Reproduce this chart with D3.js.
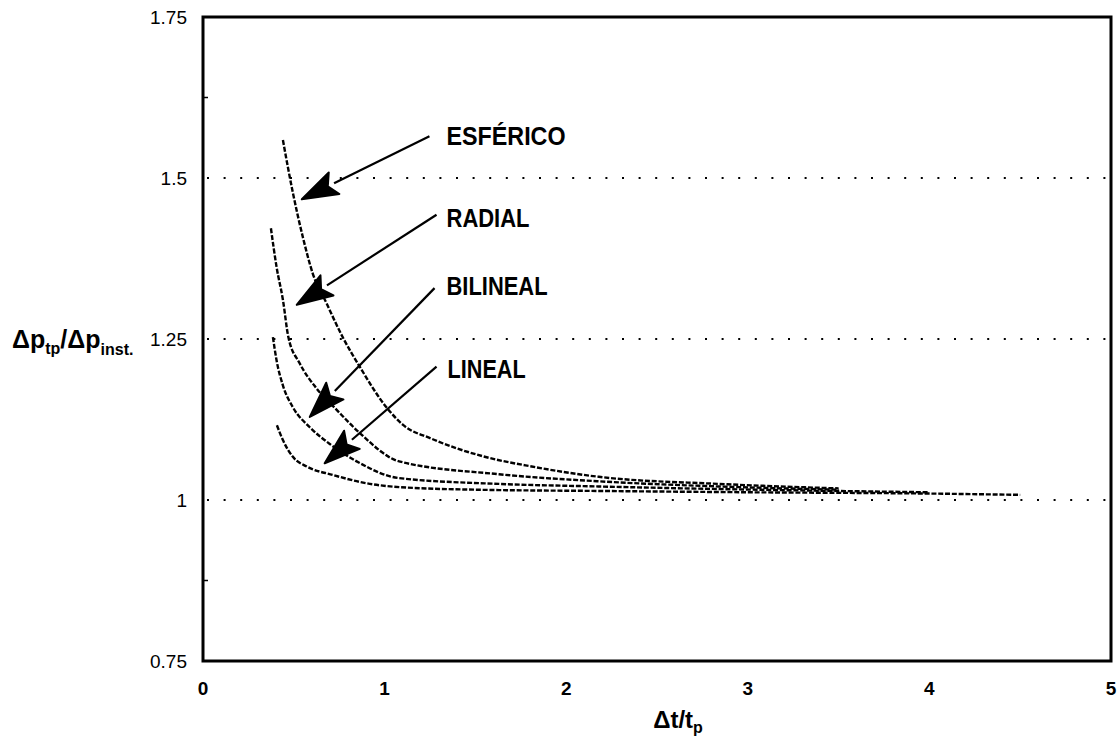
<!DOCTYPE html>
<html>
<head>
<meta charset="utf-8">
<script src="https://cdn.jsdelivr.net/npm/d3@7"></script>
<style>
  body { margin: 0; background: #fff; }
  text { font-family: "Liberation Sans", Arial, sans-serif; fill: #000; }
</style>
</head>
<body>
<div id="chart"></div>
<script>
// values
let xTicks = [0, 1, 2, 3, 4, 5];
let yTicks = [0.75, 1, 1.25, 1.5, 1.75];
let yTickLabels = ["0.75", "1", "1.25", "1.5", "1.75"];
let gridValues = [1, 1.25, 1.5];
let minorY = [0.875, 1.625];

let esfX = [0.44, 0.495, 0.55, 0.604, 0.681, 0.769, 0.863, 1.01, 1.10, 1.26, 1.54, 1.81, 2.18, 2.84, 3.5];
let esfY = [1.559, 1.477, 1.408, 1.352, 1.305, 1.253, 1.207, 1.144, 1.117, 1.095, 1.068, 1.052, 1.036, 1.025, 1.018];
let radX = [0.374, 0.405, 0.44, 0.47, 0.533, 0.626, 0.736, 0.863, 1.08, 1.63, 2.18, 2.84, 3.5];
let radY = [1.422, 1.362, 1.311, 1.253, 1.212, 1.173, 1.14, 1.104, 1.06, 1.040, 1.029, 1.021, 1.016];
let bilX = [0.385, 0.405, 0.44, 0.495, 0.588, 0.698, 0.846, 1.08, 1.63, 2.18, 2.84, 3.5, 4.0];
let bilY = [1.253, 1.217, 1.178, 1.144, 1.113, 1.087, 1.060, 1.034, 1.025, 1.021, 1.017, 1.014, 1.012];
let linX = [0.407, 0.44, 0.495, 0.571, 0.714, 0.90, 1.08, 1.5, 2.2, 3.0, 4.0, 4.5];
let linY = [1.116, 1.093, 1.067, 1.052, 1.039, 1.026, 1.020, 1.016, 1.014, 1.012, 1.010, 1.008];

let seriesNames = ["ESFÉRICO", "RADIAL", "BILINEAL", "LINEAL"];
// annotation anchors in data units: label, line start, arrow tip
let labelX = [1.341, 1.341, 1.341, 1.347];
let labelY = [1.551, 1.424, 1.318, 1.189];
let labelW = [119, 83, 101, 78];
let arrowFromX = [1.247, 1.286, 1.275, 1.286];
let arrowFromY = [1.565, 1.443, 1.329, 1.207];
let arrowToX = [0.544, 0.516, 0.588, 0.670];
let arrowToY = [1.467, 1.303, 1.129, 1.057];

let width = 1118, height = 737;
let margin = {top: 17, right: 7, bottom: 76, left: 203};

let svg = d3.select("#chart").append("svg")
  .attr("width", width)
  .attr("height", height);

let x = d3.scaleLinear().domain([0, 5]).range([margin.left, width - margin.right]);
let y = d3.scaleLinear().domain([0.75, 1.75]).range([height - margin.bottom, margin.top]);

// dotted grid lines
svg.selectAll(".grid")
  .data(gridValues).enter()
  .append("line")
  .attr("class", "grid")
  .attr("x1", x(0) + 4)
  .attr("x2", x(5))
  .attr("y1", d => y(d))
  .attr("y2", d => y(d))
  .attr("stroke", "#000")
  .attr("stroke-width", 2)
  .attr("stroke-dasharray", "2,14.6");

// small inward ticks on the left axis
svg.selectAll(".minor")
  .data(minorY).enter()
  .append("line")
  .attr("x1", x(0))
  .attr("x2", x(0) + 5)
  .attr("y1", d => y(d))
  .attr("y2", d => y(d))
  .attr("stroke", "#000")
  .attr("stroke-width", 1.5);

// curves
let allX = [esfX, radX, bilX, linX];
let allY = [esfY, radY, bilY, linY];
let line = d3.line()
  .x(d => x(d[0]))
  .y(d => y(d[1]))
  .curve(d3.curveMonotoneX);

allX.forEach(function(xs, i) {
  let pts = xs.map((v, j) => [v, allY[i][j]]);
  svg.append("path")
    .datum(pts)
    .attr("d", line)
    .attr("fill", "none")
    .attr("stroke", "#000")
    .attr("stroke-width", 2.4)
    .attr("stroke-dasharray", "5,1.8");
});

// arrows with filled heads
seriesNames.forEach(function(name, i) {
  let x1 = x(arrowFromX[i]), y1 = y(arrowFromY[i]);
  let x2 = x(arrowToX[i]), y2 = y(arrowToY[i]);
  let dx = x2 - x1, dy = y2 - y1;
  let len = Math.sqrt(dx * dx + dy * dy);
  let ux = dx / len, uy = dy / len;
  let headLen = 36, headW = 12;
  let bx = x2 - ux * headLen, by = y2 - uy * headLen;

  svg.append("line")
    .attr("x1", x1).attr("y1", y1)
    .attr("x2", bx).attr("y2", by)
    .attr("stroke", "#000")
    .attr("stroke-width", 2.2);

  let head = [
    [x2, y2],
    [bx - uy * headW, by + ux * headW],
    [bx + ux * 7, by + uy * 7],
    [bx + uy * headW, by - ux * headW]
  ];
  svg.append("path")
    .attr("d", "M" + head.map(p => p.join(",")).join("L") + "Z")
    .attr("fill", "#000")
    .attr("stroke", "#000")
    .attr("stroke-width", 2)
    .attr("stroke-linejoin", "round");

  svg.append("text")
    .attr("x", x(labelX[i]))
    .attr("y", y(labelY[i]))
    .attr("font-size", 25)
    .attr("font-weight", "bold")
    .attr("textLength", labelW[i])
    .attr("lengthAdjust", "spacingAndGlyphs")
    .text(name);
});

// frame
svg.append("rect")
  .attr("x", x(0))
  .attr("y", y(1.75))
  .attr("width", x(5) - x(0))
  .attr("height", y(0.75) - y(1.75))
  .attr("fill", "none")
  .attr("stroke", "#000")
  .attr("stroke-width", 3);

// tick labels
svg.selectAll(".ytick")
  .data(yTicks).enter()
  .append("text")
  .attr("x", x(0) - 16)
  .attr("y", d => y(d))
  .attr("dy", "0.36em")
  .attr("text-anchor", "end")
  .attr("font-size", 19)
  .text((d, i) => yTickLabels[i]);

svg.selectAll(".xtick")
  .data(xTicks).enter()
  .append("text")
  .attr("x", d => x(d))
  .attr("y", y(0.75) + 34)
  .attr("text-anchor", "middle")
  .attr("font-size", 19)
  .attr("font-weight", "bold")
  .text(d => d);

// axis titles
let xt = svg.append("text")
  .attr("x", 678)
  .attr("y", 728)
  .attr("text-anchor", "middle")
  .attr("font-size", 24)
  .attr("font-weight", "bold");
xt.append("tspan").text("Δt/t");
xt.append("tspan").attr("font-size", 16).attr("dy", 5).text("p");

let yt = svg.append("text")
  .attr("x", 12)
  .attr("y", 348)
  .attr("font-size", 25)
  .attr("font-weight", "bold");
yt.append("tspan").text("Δp");
yt.append("tspan").attr("font-size", 16).attr("dy", 6).text("tp");
yt.append("tspan").attr("dy", -6).text("/Δp");
yt.append("tspan").attr("font-size", 16).attr("dy", 7).text("inst.");
</script>
</body>
</html>
